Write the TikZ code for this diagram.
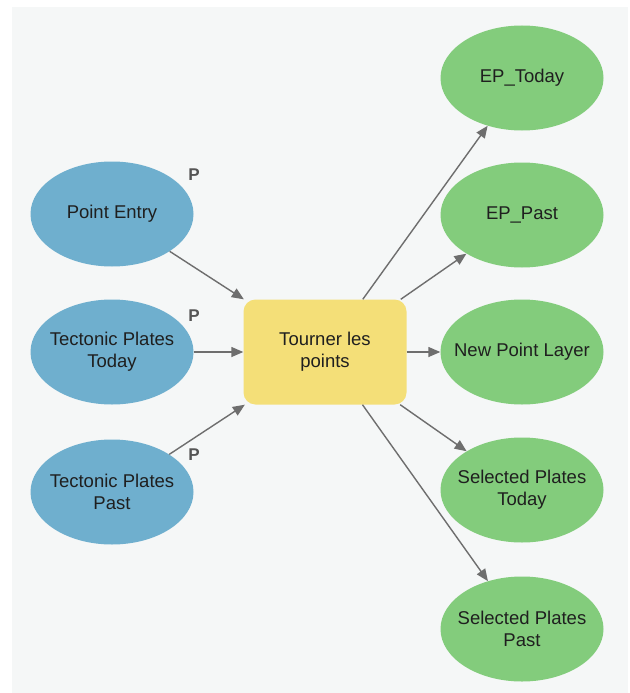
\documentclass[tikz,border=0pt]{standalone}
\usepackage{fontspec}
\setmainfont{Liberation Sans}
\usetikzlibrary{arrows.meta,shapes.geometric}
\definecolor{inblue}{HTML}{6FAFCE}
\definecolor{toolyellow}{HTML}{F4DF78}
\definecolor{outgreen}{HTML}{83CC7C}
\definecolor{bggray}{HTML}{F5F7F7}
\definecolor{linkgray}{HTML}{6E6E6E}
\definecolor{pgray}{HTML}{555555}

\begin{document}
\begin{tikzpicture}[x=1pt, y=-1pt,
	txt/.style = {align=center, text=black!88, font=\fontsize{18.5}{22}\selectfont},
	data/.style = {txt, ellipse, minimum width=163pt, minimum height=105pt, inner xsep=-15pt, inner ysep=0pt},
	indata/.style = {data, fill=inblue},
	outdata/.style = {data, fill=outgreen},
	tool/.style = {txt, rectangle, rounded corners=12pt, fill=toolyellow, minimum width=163pt, minimum height=105pt},
	plabel/.style = {text=pgray, font=\fontsize{17}{17}\selectfont\bfseries},
	link/.style = {draw=linkgray, line width=1.4pt, -{Triangle[length=12pt, width=10pt]}}]
	\useasboundingbox (0,0) rectangle (629,693);
	\fill[bggray] (12,7) rectangle (628,693);

	\node[indata] (entry) at (112,214) {Point Entry};
	\node[indata] (today) at (112,352) {Tectonic Plates\\Today};
	\node[indata] (past) at (112,492) {Tectonic Plates\\Past};
	\node[plabel] (pentry) at (194,175) {P};
	\node[plabel] (ptoday) at (194,316) {P};
	\node[plabel] (ppast) at (194,455) {P};

	\node[tool] (rotate) at (325,352) {Tourner les\\points};

	\node[outdata] (eptoday) at (522,78) {EP\_Today};
	\node[outdata] (eppast) at (522,215) {EP\_Past};
	\node[outdata] (newlayer) at (522,352) {New Point Layer};
	\node[outdata] (seltoday) at (522,490) {Selected Plates\\Today};
	\node[outdata] (selpast) at (522,629) {Selected Plates\\Past};

	\draw[link] (entry) -- (rotate);
	\draw[link] (today) -- (rotate);
	\draw[link] (past) -- (rotate);
	\draw[link] (rotate) -- (eptoday);
	\draw[link] (rotate) -- (eppast);
	\draw[link] (rotate) -- (newlayer);
	\draw[link] (rotate) -- (seltoday);
	\draw[link] (rotate) -- (selpast);
\end{tikzpicture}
\end{document}
